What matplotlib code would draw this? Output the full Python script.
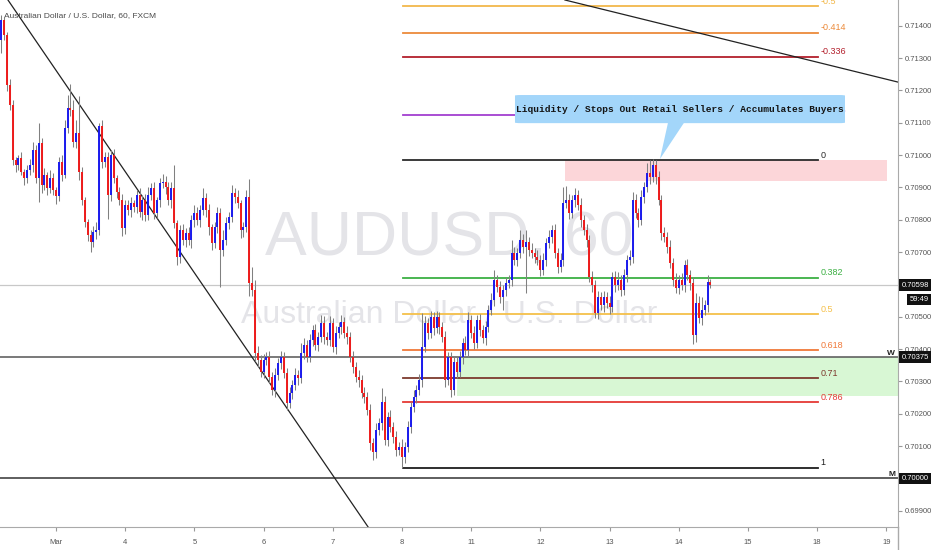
import numpy as np
import matplotlib
matplotlib.use('Agg')
import matplotlib.pyplot as plt
import matplotlib.transforms as mtransforms
from matplotlib.patches import Rectangle, FancyBboxPatch, Polygon
from matplotlib.lines import Line2D

plt.rcParams['font.family'] = ['Liberation Sans', 'DejaVu Sans']

# AUDUSD 60 min candles, prices in 1e-5 (points); open of each bar = previous close
first_open = 71356
close_pts = [
    71418, 71372, 71217, 71155, 70985, 70969, 70991, 70948, 70929, 70954,
    70969, 71016, 70929, 71038, 70908, 70939, 70898, 70929, 70892, 70874,
    70979, 70939, 71084, 71146, 71140, 71041, 71069, 70948, 70861, 70793,
    70753, 70731, 70762, 70768,
    71090, 70979, 70994, 70877, 71000, 70929, 70886, 70861, 70775, 70846,
    70830, 70852, 70840, 70877, 70824, 70861, 70815, 70877, 70898, 70821,
    70861, 70914, 70917, 70901, 70861, 70898, 70790, 70685, 70768, 70737,
    70759, 70737, 70799, 70821, 70799, 70830, 70867, 70830, 70778, 70728,
    70778, 70821, 70707, 70737, 70790, 70809, 70883, 70871, 70852, 70768,
    70778, 70871, 70604,
    70583, 70388, 70366, 70329, 70366, 70375, 70314, 70273, 70320, 70357,
    70375, 70326, 70233, 70264, 70289, 70320, 70310, 70388, 70413, 70375,
    70428, 70459, 70413, 70437, 70481, 70437, 70428, 70481, 70406, 70450,
    70468, 70484, 70450, 70437, 70375, 70345, 70314, 70304, 70264, 70252,
    70211, 70109, 70082, 70150, 70171, 70236, 70119, 70190, 70159, 70128,
    70088, 70097, 70066,
    70097, 70159, 70221, 70252, 70273, 70304, 70406, 70481, 70450, 70499,
    70465, 70499, 70468, 70437, 70304, 70375, 70273, 70360, 70329, 70375,
    70419, 70397, 70490, 70450, 70419, 70490, 70459, 70434, 70468, 70521,
    70552, 70614, 70592, 70561, 70583, 70604, 70614, 70697, 70676, 70697,
    70737, 70716, 70731, 70707, 70697, 70685, 70676, 70645, 70676, 70728,
    70747, 70768, 70697, 70654, 70676, 70852,
    70861, 70821, 70861, 70877, 70846, 70799, 70768, 70737, 70623, 70598,
    70512, 70561, 70536, 70561, 70543, 70530, 70623, 70598, 70614, 70583,
    70629, 70676, 70685, 70861, 70821, 70799, 70871, 70901, 70945, 70932,
    70969, 70932, 70861, 70759, 70747, 70716, 70666, 70614, 70589, 70614,
    70598, 70660, 70629, 70604, 70443, 70543, 70496, 70521, 70536, 70608,
    70598,
]
wick_up = [
    15, 10, 10, 20, 15, 10, 10, 20, 10, 15, 20, 25, 15, 60, 15, 20, 10, 25, 15, 10,
    15, 20, 25, 40, 75, 30, 40, 115, 15, 10, 10, 15, 20, 25,
    10, 20, 15, 15, 15, 20, 10, 15, 20, 15, 15, 20, 10, 15, 20, 15, 20, 25, 15, 20,
    10, 15, 25, 20, 15, 20, 70, 10, 15, 20, 15, 20, 15, 25, 20, 15, 30, 15, 20, 10,
    15, 20, 15, 30, 20, 15, 25, 15, 20, 10, 15, 20, 55,
    50, 30, 20, 15, 20, 15, 20, 15, 20, 15, 20, 15, 15, 20, 15, 20, 15, 30, 20, 15,
    20, 15, 20, 15, 25, 20, 15, 20, 15, 20, 15, 20, 15, 20, 15, 20, 15, 20, 15, 20,
    15, 20, 15, 20, 15, 45, 20, 15, 20, 15, 20, 15, 25,
    15, 20, 15, 20, 15, 20, 105, 20, 15, 20, 15, 20, 15, 15, 20, 15, 15, 20, 15, 20,
    15, 20, 25, 15, 20, 15, 20, 15, 20, 15, 20, 30, 15, 20, 15, 20, 15, 40, 20, 15,
    30, 20, 37, 15, 20, 15, 20, 15, 20, 15, 20, 15, 20, 15, 20, 50,
    45, 20, 15, 20, 15, 20, 15, 20, 15, 20, 15, 20, 15, 20, 15, 20, 15, 20, 25, 15,
    20, 15, 20, 25, 20, 15, 20, 15, 30, 40, 20, 15, 20, 15, 20, 15, 20, 15, 20, 15,
    20, 15, 20, 15, 20, 30, 20, 40, 15, 20, 10,
]
wick_dn = [
    40, 15, 20, 15, 15, 20, 15, 10, 20, 15, 15, 20, 15, 75, 25, 15, 20, 15, 15, 25,
    15, 20, 10, 15, 20, 15, 20, 25, 15, 15, 20, 30, 15, 20,
    15, 20, 15, 75, 20, 15, 20, 15, 25, 20, 15, 20, 15, 20, 15, 25, 20, 15, 15, 20,
    15, 20, 15, 20, 15, 25, 15, 25, 20, 15, 20, 15, 25, 20, 15, 20, 15, 20, 25, 20,
    15, 20, 115, 20, 15, 20, 15, 20, 15, 25, 20, 15, 40,
    20, 25, 20, 15, 20, 15, 20, 15, 20, 15, 20, 15, 20, 15, 20, 15, 20, 15, 20, 15,
    15, 20, 15, 20, 15, 20, 15, 20, 15, 20, 15, 20, 15, 20, 15, 20, 15, 20, 15, 20,
    15, 20, 25, 20, 15, 20, 15, 20, 15, 20, 20, 15, 35,
    20, 15, 20, 15, 20, 15, 20, 15, 20, 15, 20, 15, 20, 15, 20, 15, 20, 15, 20, 15,
    20, 15, 20, 15, 20, 15, 20, 15, 20, 15, 15, 20, 15, 20, 40, 20, 15, 20, 15, 20,
    15, 20, 142, 20, 15, 20, 15, 20, 15, 20, 15, 20, 15, 20, 15, 20,
    15, 20, 15, 20, 15, 20, 15, 20, 15, 20, 15, 20, 15, 20, 15, 20, 15, 20, 15, 20,
    15, 20, 15, 20, 15, 20, 15, 20, 15, 20, 15, 20, 15, 20, 15, 20, 15, 20, 15, 20,
    15, 20, 15, 20, 28, 20, 15, 20, 15, 20, 10,
]
first_hour = -19          # first bar, hours from Mar 3 00:00 (trading-day axis)

day_labels = ['Mar', '4', '5', '6', '7', '8', '11', '12', '13', '14', '15', '18', '19']

fib_high = 0.70985
fib_low = 0.70033
fib_levels = [-0.5, -0.414, -0.336, -0.146, 0, 0.382, 0.5, 0.618, 0.71, 0.786, 1]
fib_colors = ['#f2b84b', '#ec8a3a', '#b3202c', '#a23fd0', '#2b2b2b', '#3cb043',
              '#f5c04a', '#f07838', '#7d3a2e', '#e53935', '#1e1e1e']
fib_start, fib_end = 5.014, 11.012

last_price = 0.70598
countdown = '59:49'
w_level = 0.70375
m_level = 0.70000

n = len(close_pts)
c = np.array(close_pts[:n]) / 1e5
o = np.array([first_open] + close_pts[:n - 1]) / 1e5
up = np.array(wick_up[:n]) / 1e5
dn = np.array(wick_dn[:n]) / 1e5
hi = np.maximum(o, c) + up
lo = np.minimum(o, c) - dn
t = (np.arange(n) + first_hour) / 24.0

fig = plt.figure(figsize=(9.32, 5.5), dpi=100)
ax = fig.add_axes([0, 23 / 550, 898 / 932, 527 / 550])
ax.set_xlim(-0.809, 12.168)
ax.set_ylim(0.698495, 0.71480)

# watermark
ax.text(0.5, 0.516, 'AUDUSD, 60', transform=ax.transAxes, ha='center', va='baseline',
        fontsize=45, color='#e4e4e8', zorder=0)
ax.text(0.5, 0.387, 'Australian Dollar / U.S. Dollar', transform=ax.transAxes, ha='center',
        va='baseline', fontsize=23, color='#e4e4e8', zorder=0)
ax.text(4 / 898, (527 - 17) / 527, 'Australian Dollar / U.S. Dollar, 60, FXCM',
        transform=ax.transAxes, ha='left', va='baseline', fontsize=6, color='#4a4a4a')

# zones
ax.add_patch(Rectangle((7.355, 0.70920), 12.009 - 7.355, fib_high - 0.70920,
                       facecolor='#fcd6d9', edgecolor='none', zorder=1))
ax.add_patch(Rectangle((5.795, 0.70255), 7.0, w_level - 0.70255,
                       facecolor='#d8f7d4', edgecolor='none', zorder=1))

# horizontal levels
ax.axhline(last_price, color='#c8c8c8', lw=0.9, zorder=1.5)
ax.axhline(w_level, color='#555555', lw=1.1, zorder=1.5)
ax.axhline(m_level, color='#333333', lw=1.1, zorder=1.5)
blend = mtransforms.blended_transform_factory(ax.transAxes, ax.transData)
ax.text(0.997, w_level + 0.00002, 'W', transform=blend, ha='right', va='bottom',
        fontsize=6, fontweight='bold', color='#222')
ax.text(0.997, m_level + 0.00002, 'M', transform=blend, ha='right', va='bottom',
        fontsize=6, fontweight='bold', color='#222')

# fibonacci
for lv, col in zip(fib_levels, fib_colors):
    p = fib_high - lv * (fib_high - fib_low)
    ax.plot([fib_start, fib_end], [p, p], color=col, lw=1.3, zorder=2)
    ax.text(fib_end + 0.04, p + 0.00001, f'{lv:g}', color=col, fontsize=6.5,
            ha='left', va='bottom', zorder=2)

# trend lines
ax.plot([-0.694, 4.509], [0.71480, 0.69850], color='#222', lw=0.9, zorder=2.5)
ax.plot([7.355, 12.168], [0.71480, 0.71226], color='#222', lw=0.9, zorder=2.5)

# candles
cols = np.where(c >= o, '#1a1aee', '#ee1a1a')
ax.vlines(t, lo, hi, colors='#808080', lw=0.75, zorder=3)
body_lo = np.minimum(o, c)
body_hi = np.maximum(np.maximum(o, c), body_lo + 0.000015)
ax.vlines(t, body_lo, body_hi, colors=cols, lw=1.4, zorder=3.5, capstyle='butt')

# callout
ax.add_patch(FancyBboxPatch((6.633, 0.71099), 11.402 - 6.633, 0.71186 - 0.71099,
                            boxstyle='round,pad=0,rounding_size=0.08',
                            mutation_aspect=2.237e-4, facecolor='#a3d6fa',
                            edgecolor='none', zorder=5))
ax.add_patch(Polygon([(8.844, 0.71100), (9.075, 0.71100), (8.728, 0.70988)],
                     closed=True, facecolor='#a3d6fa', edgecolor='none', zorder=5))
ax.text(9.017, 0.711425, 'Liquidity / Stops Out Retail Sellers / Accumulates Buyers',
        ha='center', va='center', fontsize=6.8, fontweight='bold', color='#151515',
        family=['Liberation Mono', 'DejaVu Sans Mono'], zorder=6)

# axes styling
ax.set_xticks(range(len(day_labels)))
ax.set_xticklabels(day_labels)
yt = np.arange(0.699, 0.7145, 0.001)
ax.set_yticks(yt)
ax.set_yticklabels([f'{v:.5f}' for v in yt])
ax.yaxis.tick_right()
ax.tick_params(axis='y', length=3, color='#999999', labelcolor='#555555', labelsize=5.5, pad=2)
ax.tick_params(axis='x', length=3, color='#999999', labelcolor='#555555', labelsize=5.5, pad=6)
for s in ['top', 'left']:
    ax.spines[s].set_visible(False)
for s in ['right', 'bottom']:
    ax.spines[s].set_color('#aaaaaa')
fig.add_artist(Line2D([898 / 932] * 2, [0, 23 / 550], transform=fig.transFigure,
                      color='#aaaaaa', lw=1))

# price tags on the scale
for val, txt in [(last_price, f'{last_price:.5f}'), (w_level, f'{w_level:.5f}'),
                 (m_level, f'{m_level:.5f}')]:
    ax.text(1.004, val, txt, transform=blend, ha='left', va='center', fontsize=5.5,
            color='white', clip_on=False, zorder=10,
            bbox=dict(boxstyle='square,pad=0.3', fc='#111111', ec='none'))
ax.text(1.034, last_price - 0.00044, countdown, transform=blend, ha='right', va='center',
        fontsize=5.5, color='white', clip_on=False, zorder=10,
        bbox=dict(boxstyle='square,pad=0.3', fc='#111111', ec='none'))

fig.savefig('out.png', dpi=100)
